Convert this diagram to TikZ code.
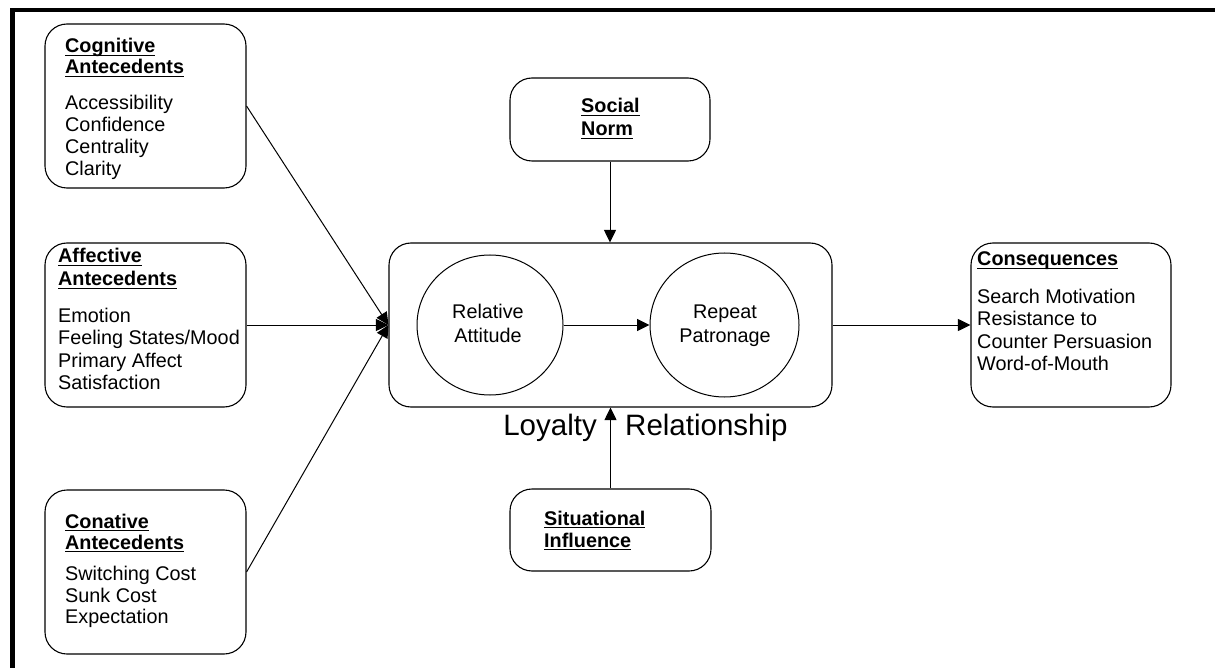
\documentclass[tikz,border=0pt]{standalone}
\usepackage{fontspec}
\setmainfont{Liberation Sans}
\usetikzlibrary{arrows.meta,shapes.geometric}

% underlined heading word: a rule just below the baseline
\newsavebox\hdbox
\newcommand{\hdline}[1]{\sbox\hdbox{#1}\rlap{\rule[-3.4pt]{\wd\hdbox}{1.7pt}}\usebox\hdbox}

\begin{document}
\begin{tikzpicture}[x=1pt,y=-1pt,
  box/.style={draw,line width=1.1pt,rounded corners=22pt,inner sep=0pt},
  circ/.style={draw,ellipse,line width=1pt,inner sep=0pt},
  txt/.style={inner sep=0pt,anchor=base west,font=\fontsize{19.8}{22}\selectfont},
  hd/.style={txt,font=\bfseries\fontsize{19.8}{22}\selectfont},
  mid/.style={txt,anchor=base},
  big/.style={inner sep=0pt,font=\fontsize{29.5}{32}\selectfont},
  conn/.style={-{Triangle[length=12.5pt,width=12pt]},line width=1pt}]
\useasboundingbox (0,0) rectangle (1215,668);

% frame along the top and left edges
\fill (10,8) rectangle (1215,12.3);
\fill (10,8) rectangle (15,668);

% antecedent boxes
\node[box,minimum width=201pt,minimum height=164pt] (cog) at (145.5,106) {};
\node[box,minimum width=201pt,minimum height=164pt] (aff) at (145.5,325) {};
\node[box,minimum width=201pt,minimum height=164pt] (con) at (145.5,572) {};

\node[hd] (cog1) at (65,53) {\hdline{Cognitive}};
\node[hd] (cog2) at (65,74) {\hdline{Antecedents}};
\node[txt] (cog3) at (65,110) {Accessibility};
\node[txt] (cog4) at (65,132) {Confidence};
\node[txt] (cog5) at (65,154) {Centrality};
\node[txt] (cog6) at (65,176) {Clarity};

\node[hd] (aff1) at (58,263) {\hdline{Affective}};
\node[hd] (aff2) at (58,286) {\hdline{Antecedents}};
\node[txt] (aff3) at (58,322) {Emotion};
\node[txt] (aff4) at (58,344) {Feeling States/Mood};
\node[txt] (aff5) at (58,367) {Primary Affect};
\node[txt] (aff6) at (58,389) {Satisfaction};

\node[hd] (con1) at (65,528) {\hdline{Conative}};
\node[hd] (con2) at (65,549) {\hdline{Antecedents}};
\node[txt] (con3) at (65,580) {Switching Cost};
\node[txt] (con4) at (65,602) {Sunk Cost};
\node[txt] (con5) at (65,623) {Expectation};

% moderators
\node[box,minimum width=200pt,minimum height=83pt] (soc) at (610,119.5) {};
\node[hd] (soc1) at (581,113) {\hdline{Social}};
\node[hd] (soc2) at (581,136) {\hdline{Norm}};

\node[box,minimum width=201pt,minimum height=82pt] (sit) at (610.5,530) {};
\node[hd] (sit1) at (544,525) {\hdline{Situational}};
\node[hd] (sit2) at (544,547) {\hdline{Influence}};

% loyalty relationship
\node[box,minimum width=443pt,minimum height=164pt] (rel) at (610.5,325) {};
\node[circ,minimum width=146pt,minimum height=140pt] (ra) at (490,325) {};
\node[circ,minimum width=149pt,minimum height=144pt] (rp) at (724.5,325) {};
\node[mid] (ra1) at (488,319) {Relative};
\node[mid] (ra2) at (488,342) {Attitude};
\node[mid] (rp1) at (725,319) {Repeat};
\node[mid] (rp2) at (725,342) {Patronage};
\node[big,anchor=base east] (loy) at (597,435) {Loyalty};
\node[big,anchor=base west] (rship) at (625,435) {Relationship};

% consequences
\node[box,minimum width=200pt,minimum height=164pt] (cons) at (1071,325) {};
\node[hd] (cons1) at (977,266) {\hdline{Consequences}};
\node[txt] (cons2) at (977,303) {Search Motivation};
\node[txt] (cons3) at (977,325) {Resistance to};
\node[txt] (cons4) at (977,348) {Counter Persuasion};
\node[txt] (cons5) at (977,370) {Word-of-Mouth};

% connectors
\draw[conn] (cog.east) -- (rel.west);
\draw[conn] (aff.east) -- (rel.west);
\draw[conn] (con.east) -- (rel.west);
\draw[conn] (soc.south) -- (soc.south |- rel.north);
\draw[conn] (sit.north) -- (sit.north |- rel.south);
\draw[conn] (ra.east) -- (rp.west);
\draw[conn] (rel.east) -- (cons.west);
\end{tikzpicture}
\end{document}
